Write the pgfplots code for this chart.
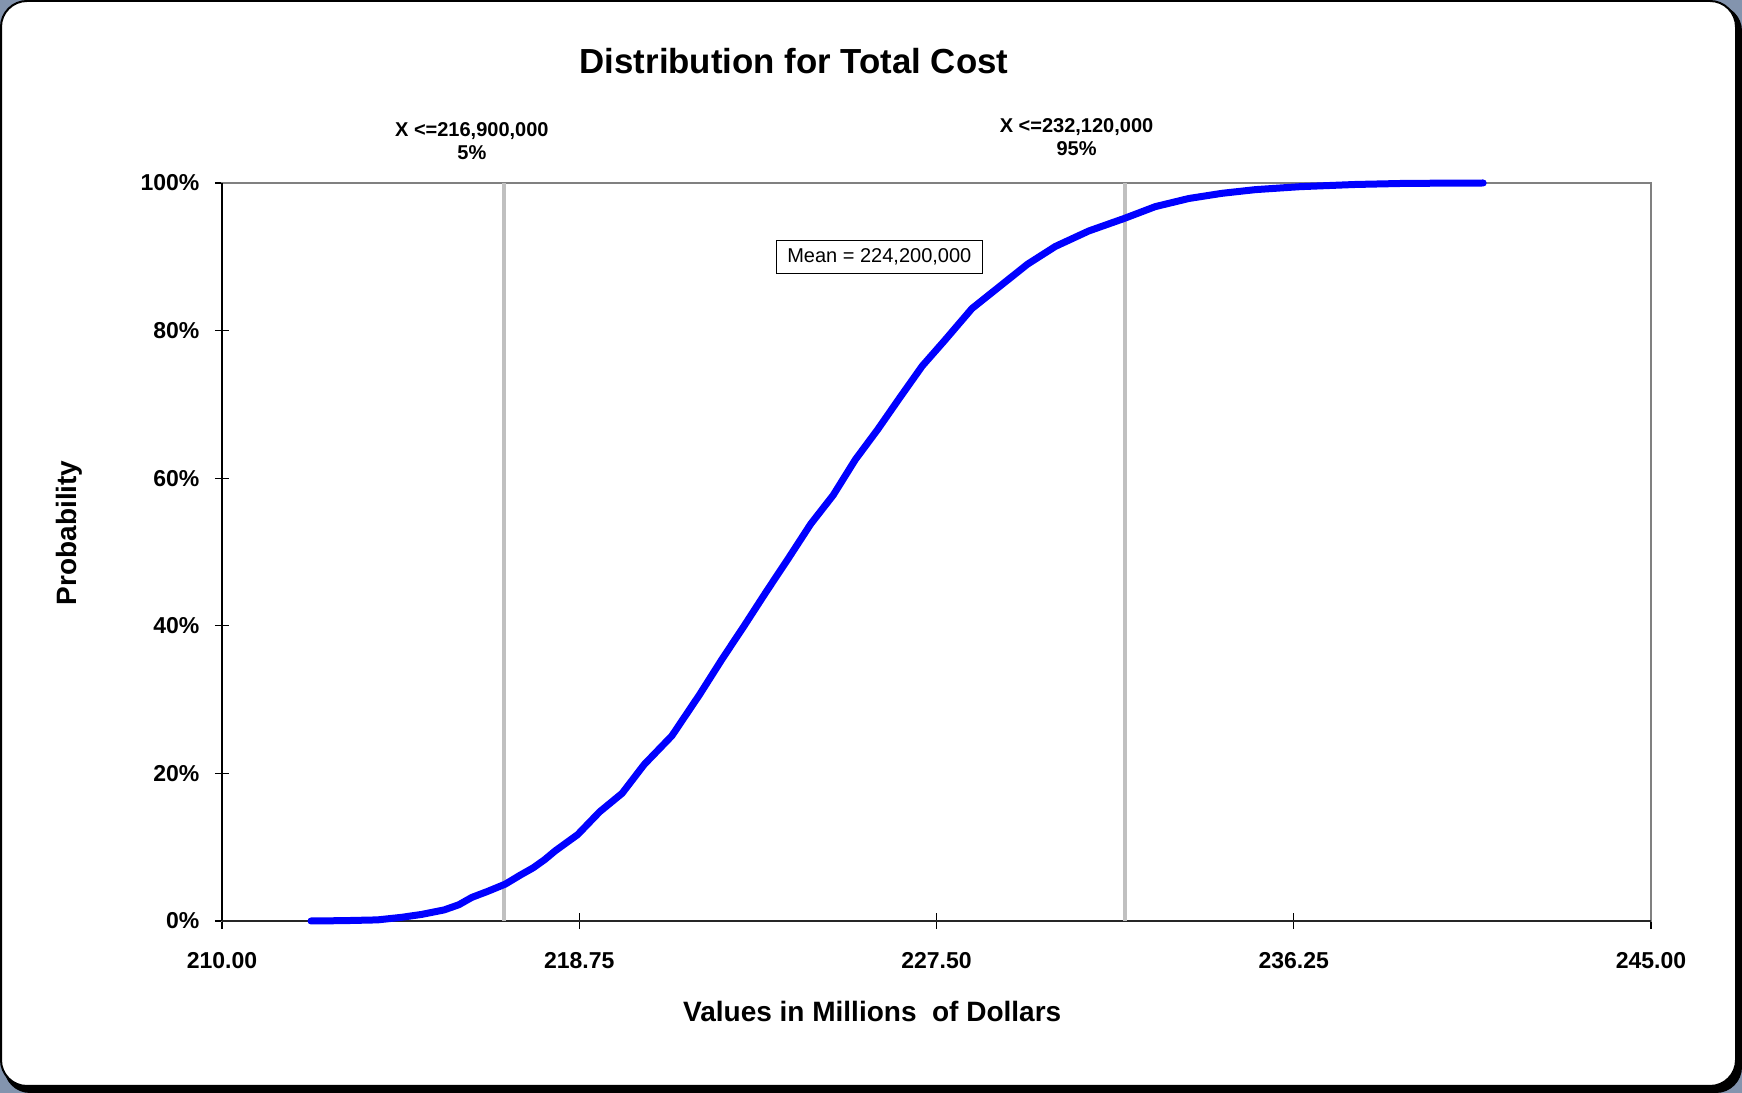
\documentclass[border=0pt]{standalone}
\usepackage{pgfplots}
\pgfplotsset{compat=1.18}
\usepackage{fontspec}
\setmainfont{Liberation Sans}
\definecolor{cornerblue}{RGB}{131,148,174}
\definecolor{refgray}{RGB}{192,192,192}
\definecolor{framegray}{RGB}{128,128,128}
\begin{document}
\begin{tikzpicture}
\fill[cornerblue] (0pt,0pt) rectangle (871pt,546.5pt);
\fill[black,rounded corners=13pt] (2pt,0pt) rectangle (871pt,544pt);
\filldraw[fill=white,draw=black,line width=1pt,rounded corners=13pt] (0.5pt,3.5pt) rectangle (868pt,546pt);
\begin{axis}[
  at={(111pt,86pt)}, anchor=south west,
  scale only axis, width=714.5pt, height=369pt,
  xmin=210, xmax=245, ymin=0, ymax=1,
  clip=false,
  axis line style={draw=framegray, line width=1pt},
  xtick={210,218.75,227.5,236.25,245},
  xticklabels={210.00,218.75,227.50,236.25,245.00},
  ytick={0,0.2,0.4,0.6,0.8,1},
  yticklabels={0\%,20\%,40\%,60\%,80\%,100\%},
  tick style={black, line width=0.6pt},
  xtick pos=bottom, ytick pos=left,
  x tick style={/pgfplots/major tick length=8pt},
  y tick style={/pgfplots/major tick length=7pt},
  xtick align=center, ytick align=center,
  tick label style={font=\bfseries\fontsize{11.5}{13}\selectfont},
  xticklabel style={anchor=center, yshift=-17.8pt},
  yticklabel style={anchor=east, inner sep=0pt, xshift=-9pt},
  xlabel={Values in Millions\ \ of Dollars},
  ylabel={Probability},
  xlabel style={font=\bfseries\fontsize{14}{16}\selectfont, at={(axis description cs:0.455,-0.122)}, anchor=center},
  ylabel style={font=\bfseries\fontsize{14}{16}\selectfont, at={(axis description cs:-0.107,0.526)}, anchor=center, rotate=0},
]
\draw[black, line width=1pt] (rel axis cs:0,0) -- (rel axis cs:0,1);
\draw[black!85, line width=1.2pt] (rel axis cs:0,0) -- (rel axis cs:1,0);
\addplot[refgray, line width=2.2pt] coordinates {(216.9,0) (216.9,1)};
\addplot[refgray, line width=2.2pt] coordinates {(232.12,0) (232.12,1)};
\addplot[blue, line width=3.5pt, line join=round, line cap=round] coordinates {
(212.18,0) (213.0,0.0005) (213.81,0.0015) (214.4,0.005) (214.90,0.009) (215.44,0.015)
(215.8,0.022) (216.12,0.032) (216.5,0.040) (216.94,0.05) (217.3,0.062) (217.62,0.072)
(217.9,0.083) (218.16,0.095) (218.71,0.117) (219.25,0.148) (219.80,0.173)
(220.34,0.212) (221.02,0.251) (221.70,0.307) (222.25,0.355) (222.79,0.40)
(223.34,0.447) (223.88,0.492) (224.42,0.538) (224.97,0.577) (225.51,0.625)
(226.06,0.666) (226.60,0.709) (227.15,0.752) (227.69,0.786) (228.37,0.830)
(229.05,0.860) (229.73,0.890) (230.41,0.914) (231.23,0.935) (232.10,0.952)
(232.86,0.968) (233.68,0.979) (234.49,0.986) (235.31,0.991) (236.40,0.995)
(237.76,0.998) (239.0,0.9995) (240.89,1.0)};
\node[font=\bfseries\fontsize{17.4}{20}\selectfont] at (axis cs:224.01,1.165) {Distribution for Total Cost};
\node[font=\bfseries\fontsize{10}{11.5}\selectfont, align=center] at (axis cs:216.12,1.057) {X <=216,900,000\\5\%};
\node[font=\bfseries\fontsize{10}{11.5}\selectfont, align=center] at (axis cs:230.93,1.062) {X <=232,120,000\\95\%};
\node[draw=black, line width=0.6pt, fill=white, minimum width=103pt, minimum height=16.5pt, inner sep=0pt, font=\fontsize{10}{12}\selectfont] at (axis cs:226.1,0.90) {Mean = 224,200,000};
\end{axis}
\end{tikzpicture}
\end{document}
